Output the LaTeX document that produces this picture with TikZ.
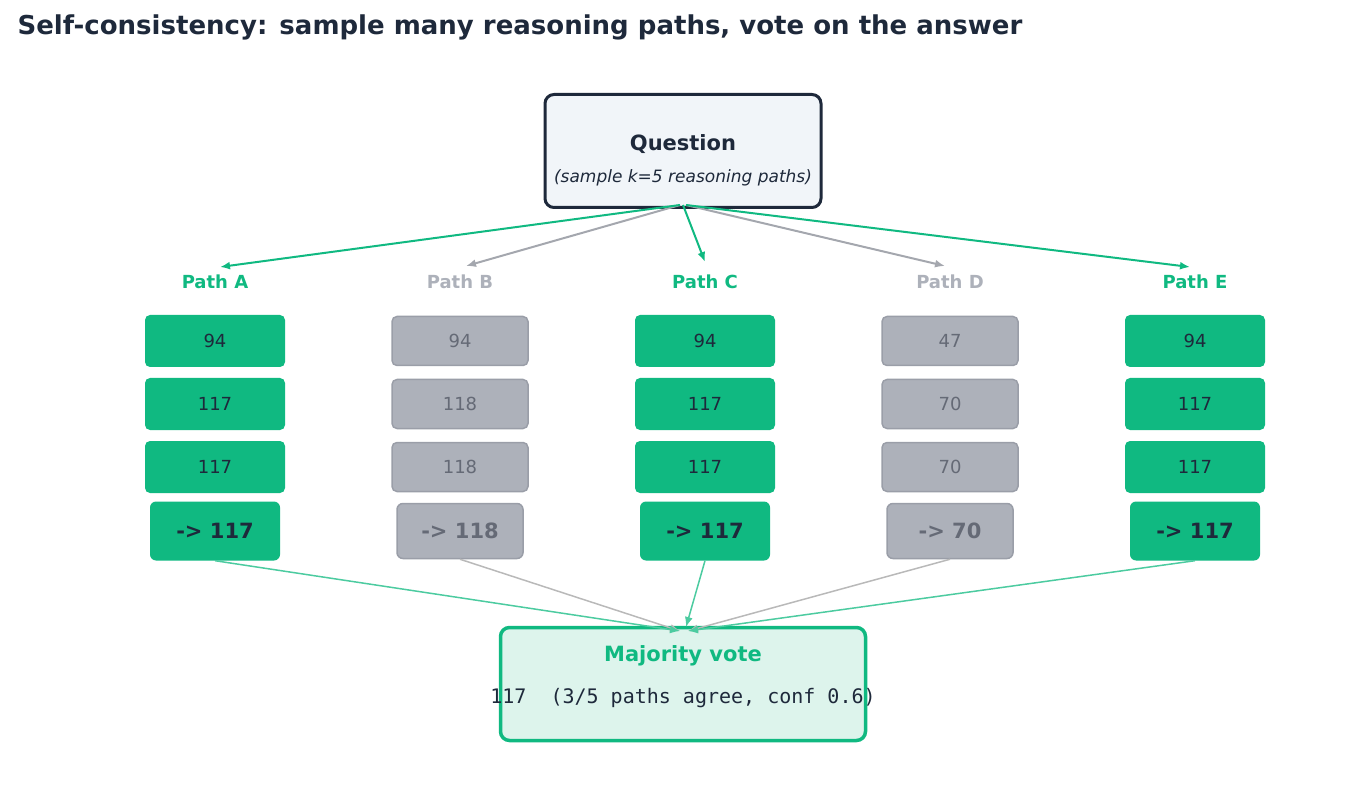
\documentclass[tikz,border=0pt]{standalone}
\usepackage{fontspec}
\setmainfont{DejaVu Sans}
\setmonofont{DejaVu Sans Mono}
\usetikzlibrary{arrows.meta}
\definecolor{grn}{HTML}{10B981}
\definecolor{gfill}{HTML}{ADB1BA}
\definecolor{gbord}{HTML}{9A9EA8}
\definecolor{gtext}{HTML}{656A76}
\definecolor{dark}{HTML}{1E293B}
\definecolor{qfill}{HTML}{F1F5F9}
\definecolor{mfill}{HTML}{DDF4EC}
\definecolor{garr}{HTML}{ADB1BA}
\begin{document}
\begin{tikzpicture}[x=1pt,y=-1pt,
  gbox/.style={rectangle,rounded corners=5pt,fill=grn,minimum width=140pt,minimum height=52pt,text=dark,font=\fontsize{18}{20}\selectfont},
  xbox/.style={rectangle,rounded corners=5pt,fill=gfill,draw=gbord,line width=1.5pt,minimum width=136pt,minimum height=49pt,text=gtext,font=\fontsize{18}{20}\selectfont},
  gfin/.style={rectangle,rounded corners=6pt,fill=grn,minimum width=130pt,minimum height=59pt,text=dark,font=\bfseries\fontsize{21}{24}\selectfont},
  xfin/.style={rectangle,rounded corners=6pt,fill=gfill,draw=gbord,line width=1.5pt,minimum width=126pt,minimum height=55pt,text=gtext,font=\bfseries\fontsize{21}{24}\selectfont},
  glab/.style={text=grn,font=\bfseries\fontsize{18}{20}\selectfont},
  xlab/.style={text=gfill,font=\bfseries\fontsize{18}{20}\selectfont},
  garrow/.style={draw=grn,line width=2pt,-{Latex[length=10pt,width=8pt]}},
  xarrow/.style={draw=garr,line width=2pt,-{Latex[length=10pt,width=8pt]},color=garr!80!gray},
  gin/.style={draw=grn!75!white,line width=1.5pt,-{Latex[length=10pt,width=8pt]}},
  xin/.style={draw=gray!55,line width=1.5pt,-{Latex[length=10pt,width=8pt]}},
]
\useasboundingbox (0,0) rectangle (1366,810);
\node[anchor=west,text=dark,font=\bfseries\fontsize{26}{30}\selectfont] (title) at (14,27) {Self-consistency: sample many reasoning paths, vote on the answer};
\node[rectangle,rounded corners=9pt,fill=qfill,draw=dark,line width=3pt,minimum width=276pt,minimum height=113pt] (q) at (683,151) {};
\node[text=dark,font=\bfseries\fontsize{21}{24}\selectfont] (qt) at (683,144) {Question};
\node[text=dark,font=\itshape\fontsize{17}{20}\selectfont] (qs) at (683,178) {(sample k=5 reasoning paths)};
\node[rectangle,rounded corners=9pt,fill=mfill,draw=grn,line width=3.5pt,minimum width=365pt,minimum height=113pt] (m) at (683,684) {};
\node[text=grn,font=\bfseries\fontsize{21}{24}\selectfont] (mt) at (683,656) {Majority vote};
\node[text=dark,font=\ttfamily\fontsize{20}{24}\selectfont] (ms) at (683,698) {117\ \ (3/5 paths agree, conf 0.6)};
% labels
\node[glab] (la) at (215,282) {Path A};
\node[xlab] (lb) at (460,282) {Path B};
\node[glab] (lc) at (705,282) {Path C};
\node[xlab] (ld) at (950,282) {Path D};
\node[glab] (le) at (1195,282) {Path E};
% A
\node[gbox] (a1) at (215,341) {94};
\node[gbox] (a2) at (215,404) {117};
\node[gbox] (a3) at (215,467) {117};
\node[gfin] (a4) at (215,531) {-> 117};
% B
\node[xbox] (b1) at (460,341) {94};
\node[xbox] (b2) at (460,404) {118};
\node[xbox] (b3) at (460,467) {118};
\node[xfin] (b4) at (460,531) {-> 118};
% C
\node[gbox] (c1) at (705,341) {94};
\node[gbox] (c2) at (705,404) {117};
\node[gbox] (c3) at (705,467) {117};
\node[gfin] (c4) at (705,531) {-> 117};
% D
\node[xbox] (d1) at (950,341) {47};
\node[xbox] (d2) at (950,404) {70};
\node[xbox] (d3) at (950,467) {70};
\node[xfin] (d4) at (950,531) {-> 70};
% E
\node[gbox] (e1) at (1195,341) {94};
\node[gbox] (e2) at (1195,404) {117};
\node[gbox] (e3) at (1195,467) {117};
\node[gfin] (e4) at (1195,531) {-> 117};
% top arrows
\coordinate (qo1) at (680,205);
\coordinate (qo2) at (686,205);
\coordinate (ta) at (220,267);
\coordinate (tb) at (466,266);
\coordinate (tc) at (705,262);
\coordinate (td) at (945,266);
\coordinate (te) at (1190,267);
\draw[xarrow] (qo1) -- (tb);
\draw[xarrow] (qo2) -- (td);
\draw[garrow] (qo1) -- (ta);
\draw[garrow] (683,205) -- (tc);
\draw[garrow] (qo2) -- (te);
% bottom arrows
\coordinate (ml) at (680,631);
\coordinate (mc) at (686,627);
\coordinate (mr) at (688,631);
\draw[xin] (b4.south) -- (ml);
\draw[xin] (d4.south) -- (mr);
\draw[gin] (a4.south) -- (ml);
\draw[gin] (e4.south) -- (mr);
\draw[gin] (c4.south) -- (mc);
\end{tikzpicture}
\end{document}
